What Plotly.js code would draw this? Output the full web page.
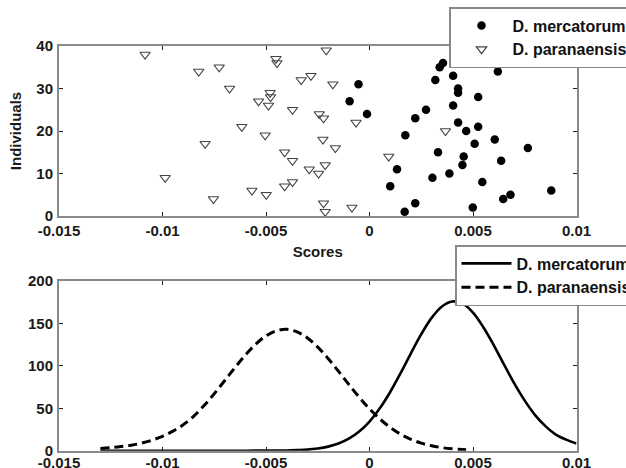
<!DOCTYPE html>
<html>
<head>
<meta charset="utf-8">
<script src="https://cdn.plot.ly/plotly-3.0.1.min.js"></script>
<style>html,body{margin:0;padding:0;background:#fff;overflow:hidden}#chart{width:626px;height:468px}</style>
</head>
<body>
<div id="chart"></div>
<script>
// ---- top panel: scores per individual ----
var mercX = [0.00355, 0.00339, 0.0062, 0.00404, 0.00318, -0.00053, 0.00428, 0.00428, 0.00525, -0.00096,
             0.00404, 0.00273, -0.00012, 0.00221, 0.00428, 0.00525, 0.00467, 0.00173, 0.00605, 0.00508,
             0.00765, 0.00331, 0.00455, 0.00449, 0.00636, 0.00133, 0.00386, 0.00304, 0.00545, 0.0010,
             0.00878, 0.00681, 0.00646, 0.00221, 0.00499, 0.0017, 0.0086];
var mercY = [36, 35, 34, 33, 32, 31, 30, 29, 28, 27,
             26, 25, 24, 23, 22, 21, 20, 19, 18, 17,
             16, 15, 14, 12, 13, 11, 10, 9, 8, 7,
             6, 5, 4, 3, 2, 1, 37];

var paraX = [-0.01084, -0.00825, -0.00726, -0.00676, -0.00536, -0.0048, -0.00478, -0.00488, -0.00452, -0.00447,
             -0.00209, -0.0033, -0.00283, -0.00177, -0.00372, -0.00243, -0.00222, -0.00065, -0.00504, -0.00225,
             -0.00165, -0.0041, -0.00372, -0.00291, -0.00246, -0.00214, -0.0041, -0.00372, -0.00499, -0.00568,
             -0.00222, -0.00214, -0.00085, -0.00617, -0.00794, -0.00987, -0.00754, 0.00367, 0.00093];
var paraY = [38, 34, 35, 30, 27, 29, 28, 26, 37, 36,
             39, 32, 33, 31, 25, 24, 23, 22, 19, 18,
             16, 15, 13, 11, 10, 12, 7, 8, 5, 6,
             3, 1, 2, 21, 17, 9, 4, 20, 14];

// ---- bottom panel: fitted densities ----
var mercCurveX = [-0.013, -0.012, -0.011, -0.010, -0.009, -0.008, -0.007, -0.006, -0.005, -0.004,
                  -0.0035, -0.003, -0.0025, -0.002, -0.0015, -0.001, -0.0005, 0, 0.0005, 0.001,
                  0.0015, 0.002, 0.0025, 0.003, 0.0035, 0.004, 0.0045, 0.005, 0.0055, 0.006,
                  0.0065, 0.007, 0.0075, 0.008, 0.0085, 0.009, 0.0095, 0.010];
var mercCurveY = [0, 0, 0, 0, 0, 0, 0, 0, 0.1, 0.3,
                  0.7, 1.3, 2.6, 4.8, 8.4, 14.1, 22.6, 34.4, 50.0, 69.2,
                  91.3, 114.7, 137.3, 156.5, 170.0, 175.8, 173.3, 162.7, 145.5, 124.5,
                  101.5, 79.0, 59.0, 42.0, 29.0, 19.0, 13.0, 8.5];

var paraCurveX = [-0.013, -0.0125, -0.012, -0.0115, -0.011, -0.0105, -0.010, -0.0095, -0.009, -0.0085,
                  -0.008, -0.0075, -0.007, -0.0065, -0.006, -0.0055, -0.005, -0.0045, -0.004, -0.0035,
                  -0.003, -0.0025, -0.002, -0.0015, -0.001, -0.0005, 0, 0.0005, 0.001, 0.0015,
                  0.002, 0.0025, 0.003, 0.0035, 0.004, 0.0045, 0.0048];
var paraCurveY = [2.5, 3.5, 5.0, 6.5, 9.0, 12.5, 17.0, 23.0, 30.5, 40.5,
                  53.0, 67.2, 82.4, 97.9, 112.6, 125.4, 135.3, 141.3, 143.0, 140.0,
                  132.9, 122.1, 108.6, 93.6, 78.1, 63.1, 49.3, 37.4, 27.5, 19.5,
                  13.4, 8.9, 5.8, 3.6, 2.2, 1.3, 1.0];

var names = ['D. mercatorum', 'D. paranaensis'];
var xTickVals = [-0.015, -0.01, -0.005, 0, 0.005, 0.01];
var xTickText = ['-0.015', '-0.01', '-0.005', '0', '0.005', '0.01'];
var yTopTicks = [0, 10, 20, 30, 40];
var yBotTicks = [0, 50, 100, 150, 200];

var FONT = 'Liberation Sans, Arial, Helvetica, sans-serif';
var TICKFONT = {family: FONT, size: 15, weight: 'bold', color: '#1a1a1a'};

var traces = [
  {x: mercX, y: mercY, type: 'scatter', mode: 'markers', name: names[0], xaxis: 'x', yaxis: 'y', legend: 'legend',
   marker: {symbol: 'circle', size: 8.5, color: '#000', line: {width: 0}}},
  {x: paraX, y: paraY, type: 'scatter', mode: 'markers', name: names[1], xaxis: 'x', yaxis: 'y', legend: 'legend',
   marker: {symbol: 'triangle-down-open', size: 9, color: '#444', line: {width: 1.2, color: '#444'}}},
  {x: mercCurveX, y: mercCurveY, type: 'scatter', mode: 'lines', name: names[0], xaxis: 'x2', yaxis: 'y2', legend: 'legend2',
   line: {color: '#000', width: 2.6, shape: 'spline'}},
  {x: paraCurveX, y: paraCurveY, type: 'scatter', mode: 'lines', name: names[1], xaxis: 'x2', yaxis: 'y2', legend: 'legend2',
   line: {color: '#000', width: 3, dash: '9px,5px', shape: 'spline'}}
];

function xAxis(domain, anchor, standoff) {
  return {domain: domain, anchor: anchor, range: [-0.015, 0.01], tickmode: 'array', tickvals: xTickVals, ticktext: xTickText,
    ticks: 'inside', ticklen: 4, tickwidth: 1, tickcolor: '#222', showline: true, linecolor: '#8a8a8a', linewidth: 2,
    mirror: 'ticks', showgrid: false, zeroline: false, tickfont: TICKFONT, automargin: false, ticklabelstandoff: standoff};
}
function yAxis(domain, anchor, range, ticks) {
  return {domain: domain, anchor: anchor, range: range, tickmode: 'array', tickvals: ticks,
    ticks: 'inside', ticklen: 4, tickwidth: 1, tickcolor: '#222', showline: true, linecolor: '#8a8a8a', linewidth: 2,
    mirror: 'ticks', showgrid: false, zeroline: false, tickfont: TICKFONT, automargin: false, ticklabelstandoff: 1};
}

var W = 626, H = 468;
var xd = [59 / W, 576.5 / W];
var LEGFONT = {family: FONT, size: 16, weight: 'bold', color: '#111'};
var layout = {
  width: W, height: H,
  margin: {l: 0, r: 0, t: 0, b: 0, autoexpand: false},
  paper_bgcolor: '#fff', plot_bgcolor: '#fff',
  font: {family: FONT, size: 14, color: '#111'},
  showlegend: true,
  xaxis: Object.assign(xAxis(xd, 'y', 0), {title: {text: 'Scores', font: {family: FONT, size: 15, weight: 'bold', color: '#1a1a1a'}, standoff: 8}}),
  yaxis: Object.assign(yAxis([(H - 216) / H, (H - 46) / H], 'x', [0, 40], yTopTicks),
    {title: {text: 'Individuals', font: {family: FONT, size: 15, weight: 'bold', color: '#1a1a1a'}, standoff: 11}}),
  xaxis2: xAxis(xd, 'y2', -3),
  yaxis2: yAxis([(H - 450.7) / H, (H - 281) / H], 'x2', [0, 200], yBotTicks),
  legend: {x: 449 / W, y: 1 - 7 / H, xanchor: 'left', yanchor: 'top', bgcolor: '#fff', bordercolor: '#8a8a8a', borderwidth: 1.5,
    font: LEGFONT, itemwidth: 52, tracegroupgap: 0},
  legend2: {x: 455 / W, y: 1 - 245 / H, xanchor: 'left', yanchor: 'top', bgcolor: '#fff', bordercolor: '#8a8a8a', borderwidth: 1.5,
    font: LEGFONT, itemwidth: 50, tracegroupgap: 0}
};

Plotly.newPlot('chart', traces, layout, {displayModeBar: false, staticPlot: true});
</script>
</body>
</html>
